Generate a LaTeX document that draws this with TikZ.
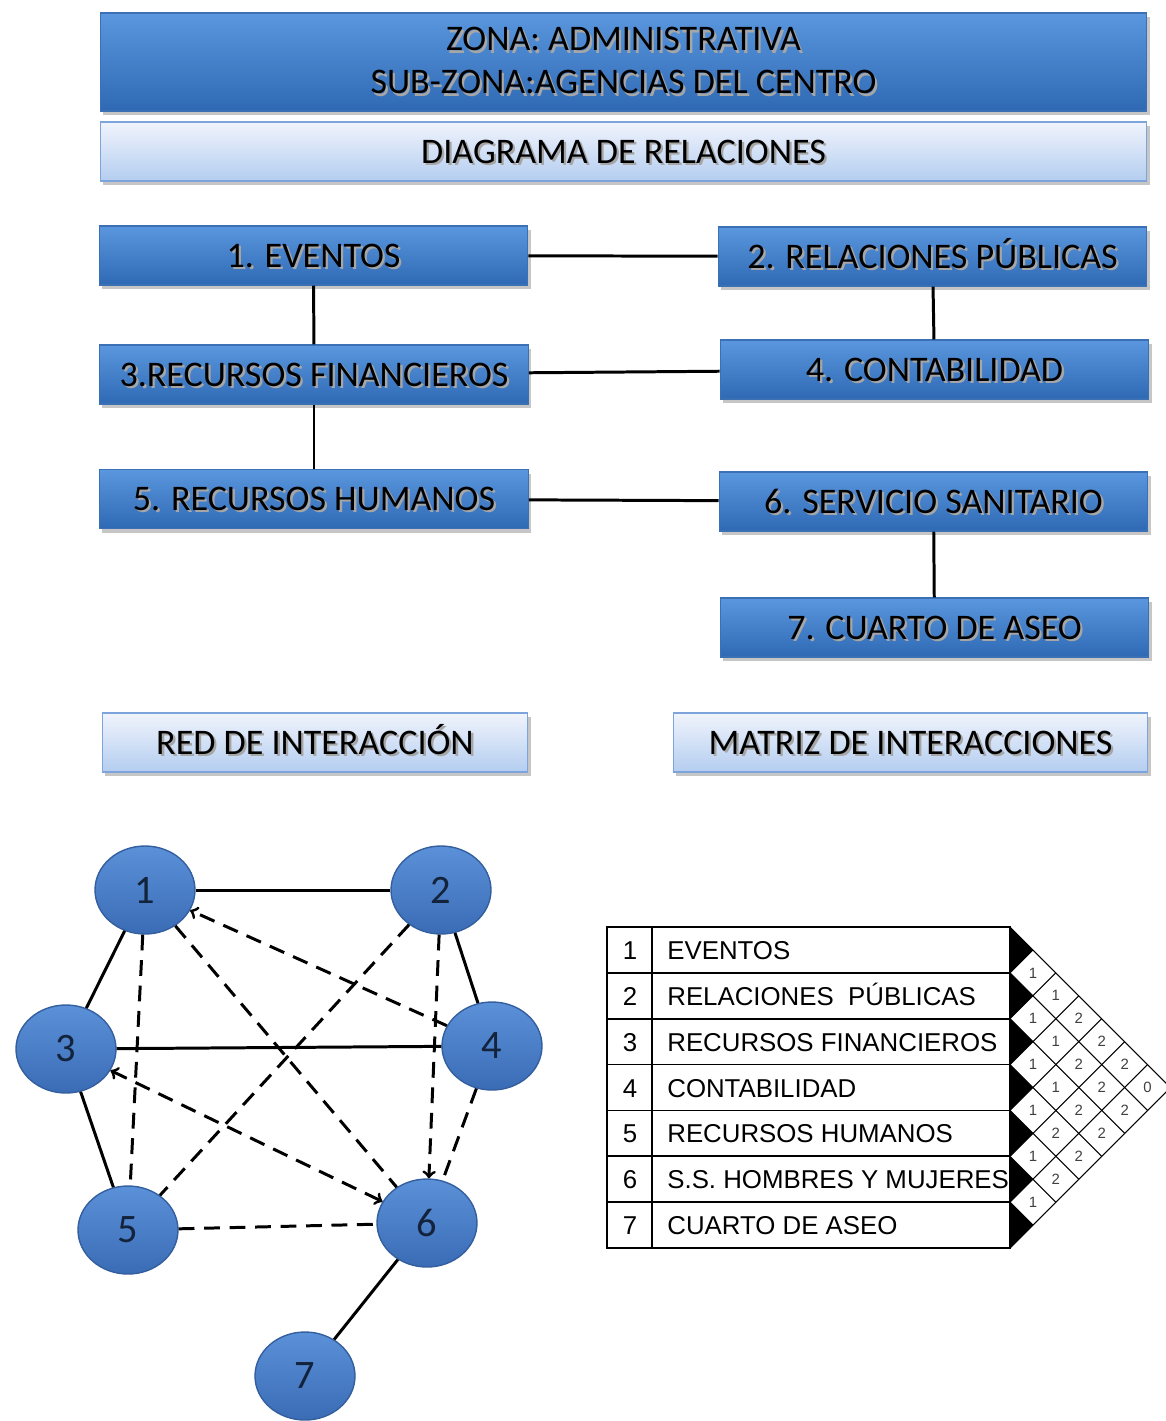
\documentclass[tikz,border=0pt]{standalone}
\usepackage{fontspec}
\setmainfont{Carlito}
\newfontfamily\tablefont{Liberation Sans}
\usetikzlibrary{shapes.geometric, shadows}

\definecolor{boxtop}{HTML}{5A97DE}
\definecolor{boxbot}{HTML}{2F69B4}
\definecolor{boxedge}{HTML}{3B70B5}
\definecolor{paletop}{HTML}{F0F4FC}
\definecolor{palebot}{HTML}{B4CDF0}
\definecolor{paleedge}{HTML}{7DA5DB}
\definecolor{nodetop}{HTML}{5B91D8}
\definecolor{nodebot}{HTML}{3A6CB6}
\definecolor{nodeedge}{HTML}{345F9E}
\definecolor{numtext}{HTML}{14233C}

% text with a soft shadow, as in the boxes
\newcommand{\shadowed}[1]{\leavevmode\rlap{\kern1.3pt\raisebox{-1.3pt}{\color{black!35}#1}}#1}

\tikzset{
  deepbox/.style={rectangle, draw=boxedge, line width=0.6pt, top color=boxtop,
    bottom color=boxbot, minimum width=8.58cm, minimum height=1.18cm, inner sep=0pt,
    font=\fontsize{20.5}{24.5}\selectfont, text height=13.2pt, text depth=0pt,
    drop shadow={shadow xshift=1.5pt, shadow yshift=-2.5pt, opacity=0.45}},
  palebox/.style={deepbox, draw=paleedge, top color=paletop, bottom color=palebot},
  dept/.style={ellipse, draw=nodeedge, line width=0.8pt, top color=nodetop,
    bottom color=nodebot, minimum width=2cm, minimum height=1.76cm, inner sep=0pt,
    text=numtext, font=\fontsize{23}{26}\selectfont},
  tie/.style={line width=1.7pt},
  loosetie/.style={tie, dash pattern=on 9pt off 5.5pt},
  tableline/.style={line width=1pt},
  gridline/.style={line width=0.6pt},
  rowtext/.style={inner sep=0pt, font=\tablefont\fontsize{14.7}{17}\selectfont},
  cellnum/.style={inner sep=0pt, text=black!75, font=\tablefont\fontsize{8.5}{9}\selectfont}
}

\begin{document}
\begin{tikzpicture}[x=0.02cm, y=-0.02cm]
  \useasboundingbox (0,0) rectangle (1166,1421);

  % Titles
  \node[deepbox, minimum width=20.94cm, minimum height=1.96cm, text height=, text depth=,
    align=center] (zona) at (623.5,62) {\shadowed{ZONA: ADMINISTRATIVA}\\\shadowed{SUB-ZONA:AGENCIAS DEL CENTRO}};
  \node[palebox, minimum width=20.94cm] (diagrama) at (623.5,151.5) {\shadowed{DIAGRAMA DE RELACIONES}};

  % Areas
  \node[deepbox] (a1) at (313.5,255.5) {\shadowed{1. EVENTOS}};
  \node[deepbox] (a2) at (932.5,256.5) {\shadowed{2. RELACIONES PÚBLICAS}};
  \node[deepbox] (a3) at (314,374.5) {\shadowed{3.RECURSOS FINANCIEROS}};
  \node[deepbox] (a4) at (934.5,369.5) {\shadowed{4. CONTABILIDAD}};
  \node[deepbox] (a5) at (314,499) {\shadowed{5. RECURSOS HUMANOS}};
  \node[deepbox] (a6) at (933.5,501.5) {\shadowed{6. SERVICIO SANITARIO}};
  \node[deepbox] (a7) at (934.5,627.5) {\shadowed{7. CUARTO DE ASEO}};

  \draw[tie] (a1) -- (a2);
  \draw[tie] (a1) -- (a3);
  \draw[tie] (a2) -- (a4);
  \draw[tie] (a3) -- (a4);
  \draw[tie] (a3) -- (a5);
  \draw[tie] (a5) -- (a6);
  \draw[tie] (a6) -- (a7);

  % Section labels
  \node[palebox, minimum width=8.52cm] (red) at (315,742.5) {\shadowed{RED DE INTERACCIÓN}};
  \node[palebox, minimum width=9.5cm] (matriz) at (910.5,742.5) {\shadowed{MATRIZ DE INTERACCIONES}};

  % Interaction network
  \node[dept] (d1) at (145,890) {1};
  \node[dept] (d2) at (441,890) {2};
  \node[dept] (d3) at (66,1049) {3};
  \node[dept] (d4) at (492,1046) {4};
  \node[dept] (d5) at (128,1230) {5};
  \node[dept] (d6) at (427,1223) {6};
  \node[dept] (d7) at (305,1376) {7};

  \draw[tie] (d1) -- (d2);
  \draw[tie] (d1) -- (d3);
  \draw[tie] (d2) -- (d4);
  \draw[tie] (d3) -- (d4);
  \draw[tie] (d3) -- (d5);
  \draw[tie] (d6) -- (d7);

  \draw[loosetie] (d1) -- (d5);
  \draw[loosetie, ->] (d4) -- (d1);
  \draw[loosetie] (d1) -- (d6);
  \draw[loosetie] (d2) -- (d5);
  \draw[loosetie, ->] (d2) -- (d6);
  \draw[loosetie, <->] (d3) -- (d6);
  \draw[loosetie] (d4) -- (d6);
  \draw[loosetie] (d5) -- (d6);

  % Interaction matrix
  \def\rowh{45.86}
  \def\cellh{22.93}
  \draw[tableline] (607,927) rectangle (1010,1248);
  \draw[tableline] (652,927) -- (652,1248);
  \foreach \i in {1,...,6}
    \draw[tableline] (607,{927+\i*\rowh}) -- (1010,{927+\i*\rowh});
  \foreach \name [count=\i] in {EVENTOS, RELACIONES~~PÚBLICAS, RECURSOS FINANCIEROS,
      CONTABILIDAD, RECURSOS HUMANOS, S.S. HOMBRES Y MUJERES, CUARTO DE ASEO} {
    \node[rowtext, anchor=base] (n\i) at (630,{927+(\i-0.5)*\rowh+9.5}) {\i};
    \node[rowtext, anchor=base west] (r\i) at (667,{927+(\i-0.5)*\rowh+9.5}) {\name};
  }

  \foreach \i in {0,...,6}
    \fill (1010,{927+2*\i*\cellh}) -- ({1010+\cellh},{927+(2*\i+1)*\cellh})
      -- (1010,{927+(2*\i+2)*\cellh}) -- cycle;
  \foreach \k in {0,...,7} {
    \draw[gridline] (1010,{927+2*\k*\cellh}) -- ({1010+(7-\k)*\cellh},{927+(7+\k)*\cellh});
    \draw[gridline] (1010,{927+2*\k*\cellh}) -- ({1010+\k*\cellh},{927+\k*\cellh});
  }

  \foreach \a/\b/\v in {1/2/1, 2/3/1, 3/4/1, 4/5/1, 5/6/1, 6/7/1,
      1/3/1, 2/4/1, 3/5/1, 4/6/2, 5/7/2,
      1/4/2, 2/5/2, 3/6/2, 4/7/2,
      1/5/2, 2/6/2, 3/7/2,
      1/6/2, 2/7/2, 1/7/0}
    \node[cellnum] (c\a\b) at ({1010+(\b-\a)*\cellh},{927+(\a+\b-1)*\cellh}) {\v};
\end{tikzpicture}
\end{document}
